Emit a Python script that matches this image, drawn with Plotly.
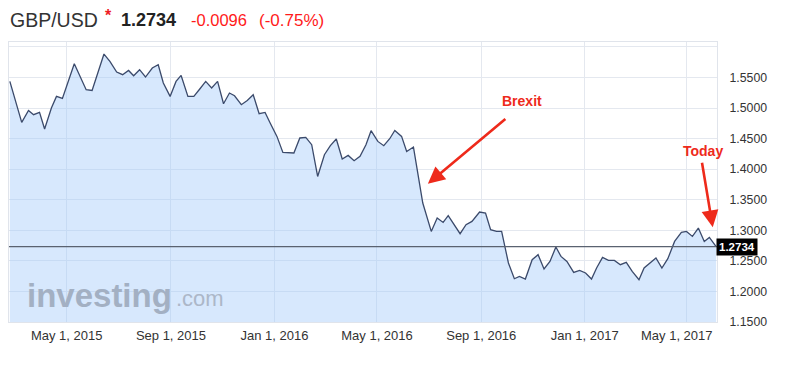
import plotly.graph_objects as go

# ---- data ----
dates = ["2015-02-23","2015-03-09","2015-03-17","2015-03-23","2015-03-30","2015-04-05","2015-04-13","2015-04-19","2015-04-26","2015-05-10",
         "2015-05-24","2015-05-31","2015-06-14","2015-06-21","2015-06-29","2015-07-06","2015-07-13","2015-07-19","2015-07-26","2015-08-02",
         "2015-08-10","2015-08-17","2015-08-23","2015-08-31","2015-09-07","2015-09-13","2015-09-21","2015-09-28","2015-10-05","2015-10-12",
         "2015-10-19","2015-10-26","2015-11-02","2015-11-09","2015-11-15","2015-11-23","2015-11-30","2015-12-07","2015-12-14","2015-12-21",
         "2015-12-27","2016-01-04","2016-01-11","2016-01-17","2016-01-24","2016-01-31","2016-02-07","2016-02-14","2016-02-21","2016-02-29",
         "2016-03-07","2016-03-14","2016-03-21","2016-03-28","2016-04-04","2016-04-11","2016-04-18","2016-04-24","2016-05-02","2016-05-09",
         "2016-05-16","2016-05-22","2016-05-30","2016-06-05","2016-06-13","2016-06-24","2016-07-04","2016-07-11","2016-07-18","2016-07-24",
         "2016-08-01","2016-08-07","2016-08-14","2016-08-21","2016-08-30","2016-09-06","2016-09-12","2016-09-19","2016-09-25","2016-10-03",
         "2016-10-10","2016-10-16","2016-10-23","2016-10-31","2016-11-07","2016-11-14","2016-11-21","2016-11-28","2016-12-04","2016-12-11",
         "2016-12-19","2016-12-26","2017-01-02","2017-01-09","2017-01-15","2017-01-22","2017-01-29","2017-02-05","2017-02-12","2017-02-19",
         "2017-02-26","2017-03-06","2017-03-12","2017-03-19","2017-03-26","2017-04-02","2017-04-09","2017-04-17","2017-04-25","2017-05-01",
         "2017-05-08","2017-05-15","2017-05-22","2017-05-28","2017-06-05"]

gbpusd = [1.5435, 1.4765, 1.4961, 1.4891, 1.4928, 1.4657, 1.5000, 1.5190, 1.5157, 1.5725,
          1.5299, 1.5288, 1.5883, 1.5762, 1.5589, 1.5545, 1.5615, 1.5528, 1.5627, 1.5507,
          1.5654, 1.5708, 1.5409, 1.5190, 1.5435, 1.5533, 1.5190, 1.5190, 1.5311, 1.5435,
          1.5327, 1.5435, 1.5070, 1.5245, 1.5201, 1.5054, 1.5124, 1.5218, 1.4907, 1.4928,
          1.4755, 1.4536, 1.4274, 1.4274, 1.4264, 1.4510, 1.4519, 1.4400, 1.3881, 1.4236,
          1.4384, 1.4493, 1.4166, 1.4225, 1.4138, 1.4209, 1.4400, 1.4629, 1.4454, 1.4384,
          1.4498, 1.4634, 1.4536, 1.4290, 1.4362, 1.3446, 1.2982, 1.3201, 1.3129, 1.3239,
          1.3064, 1.2944, 1.3091, 1.3145, 1.3299, 1.3283, 1.3010, 1.2982, 1.2982, 1.2465,
          1.2208, 1.2246, 1.2203, 1.2519, 1.2601, 1.2367, 1.2491, 1.2727, 1.2573, 1.2491,
          1.2311, 1.2344, 1.2301, 1.2203, 1.2383, 1.2557, 1.2508, 1.2508, 1.2437, 1.2475,
          1.2328, 1.2192, 1.2383, 1.2465, 1.2547, 1.2383, 1.2535, 1.2818, 1.2965, 1.2982,
          1.2900, 1.3037, 1.2818, 1.2884, 1.2734]

last_price = 1.2734
change = "-0.0096"
change_pct = "(-0.75%)"

x_tick_vals = ["2015-05-01", "2015-09-01", "2016-01-01", "2016-05-01", "2016-09-01", "2017-01-01", "2017-05-01"]
x_tick_text = ["May 1, 2015", "Sep 1, 2015", "Jan 1, 2016", "May 1, 2016", "Sep 1, 2016", "Jan 1, 2017", "May 1, 2017"]
y_tick_vals = [1.15, 1.20, 1.25, 1.30, 1.35, 1.40, 1.45, 1.50, 1.55, 1.60]
y_tick_text = ["1.1500", "1.2000", "1.2500", "1.3000", "1.3500", "1.4000", "1.4500", "1.5000", "1.5500", ""]

brexit_point = ("2016-06-30", 1.3762)
today_point = ("2017-06-01", 1.3050)

FONT = "Liberation Sans, Arial, Helvetica, sans-serif"
RED = "#ee2a1b"

fig = go.Figure()
fig.add_trace(go.Scatter(
    x=dates, y=gbpusd, mode="lines",
    line=dict(color="#3b4a6b", width=1.3),
    fill="tozeroy", fillcolor="rgba(160,200,250,0.42)",
    hoverinfo="skip", showlegend=False,
))

fig.add_shape(type="line", xref="paper", x0=0, x1=1, yref="y", y0=last_price, y1=last_price,
              line=dict(color="#5a6270", width=1.3))

# last x tick label is drawn slightly left of its gridline, as in the reference
tick_text_axis = x_tick_text[:-1] + [""]

ann = []
ann.append(dict(xref="x", x=x_tick_vals[-1], xshift=-9, yref="paper", y=0, yshift=-13, yanchor="middle",
                text=x_tick_text[-1], showarrow=False, font=dict(family=FONT, size=13, color="#333333")))
# current value box
ann.append(dict(xref="paper", x=1, xanchor="left", xshift=-1, yref="y", y=last_price, yanchor="middle",
                text="<b>%.4f</b>" % last_price, showarrow=False, bgcolor="#000000", borderpad=2,
                font=dict(family=FONT, size=11.5, color="#ffffff")))
# header
ann.append(dict(xref="paper", x=0, xshift=-1, yref="paper", y=1, yshift=22, xanchor="left", yanchor="middle",
                text="GBP/USD", showarrow=False, font=dict(family=FONT, size=19.5, color="#333333")))
ann.append(dict(xref="paper", x=0, xshift=94, yref="paper", y=1, yshift=27, xanchor="left", yanchor="middle",
                text="<b>*</b>", showarrow=False, font=dict(family=FONT, size=16, color="#ee1c25")))
ann.append(dict(xref="paper", x=0, xshift=110, yref="paper", y=1, yshift=22, xanchor="left", yanchor="middle",
                text="<b>%.4f</b>" % last_price, showarrow=False, font=dict(family=FONT, size=18, color="#222222")))
ann.append(dict(xref="paper", x=0, xshift=180, yref="paper", y=1, yshift=22, xanchor="left", yanchor="middle",
                text=change, showarrow=False, font=dict(family=FONT, size=16.5, color="#ff1a1a")))
ann.append(dict(xref="paper", x=0, xshift=248, yref="paper", y=1, yshift=22, xanchor="left", yanchor="middle",
                text=change_pct, showarrow=False, font=dict(family=FONT, size=17, color="#ff1a1a")))
# watermark
ann.append(dict(xref="paper", x=0, xshift=16, yref="paper", y=0, yshift=27, xanchor="left", yanchor="middle",
                text="<b>investing</b>", showarrow=False, font=dict(family=FONT, size=33, color="#a3b0c3")))
ann.append(dict(xref="paper", x=0, xshift=165, yref="paper", y=0, yshift=24, xanchor="left", yanchor="middle",
                text=".com", showarrow=False, font=dict(family=FONT, size=22, color="#acb7c8")))
# Brexit annotation
ann.append(dict(x=brexit_point[0], y=brexit_point[1], ax=79, ay=-66, text="", showarrow=True,
                arrowhead=2, arrowsize=1.3, arrowwidth=2.6, arrowcolor=RED))
ann.append(dict(x=brexit_point[0], y=brexit_point[1], xshift=94, yshift=83, text="<b>Brexit</b>",
                showarrow=False, font=dict(family=FONT, size=14, color=RED)))
# Today annotation
ann.append(dict(x=today_point[0], y=today_point[1], ax=-11, ay=-66, text="", showarrow=True,
                arrowhead=2, arrowsize=1.3, arrowwidth=2.6, arrowcolor=RED))
ann.append(dict(x=today_point[0], y=today_point[1], xshift=-10, yshift=76, text="<b>Today</b>",
                showarrow=False, font=dict(family=FONT, size=14, color=RED)))

# the page body adds an 8px offset; margins compensate so the plot sits where the reference has it
fig.update_layout(
    width=785, height=377,
    margin=dict(l=1, r=76, t=34, b=63),
    paper_bgcolor="#ffffff", plot_bgcolor="#ffffff",
    font=dict(family=FONT, color="#333333"),
    annotations=ann,
    showlegend=False,
)
fig.update_xaxes(
    range=["2015-02-22", "2017-06-06"], tickmode="array", tickvals=x_tick_vals, ticktext=tick_text_axis,
    showgrid=True, gridcolor="#e4e8ef", gridwidth=1, zeroline=False,
    showline=True, linecolor="#e0e4eb", linewidth=1, mirror=True,
    tickfont=dict(family=FONT, size=13, color="#333333"), ticks="", ticklabelstandoff=1,
)
fig.update_yaxes(
    range=[1.15, 1.608], side="right", tickmode="array", tickvals=y_tick_vals, ticktext=y_tick_text,
    showgrid=True, gridcolor="#e4e8ef", gridwidth=1, zeroline=False,
    showline=True, linecolor="#e0e4eb", linewidth=1, mirror=True,
    tickfont=dict(family=FONT, size=12.3, color="#333333"), ticks="", ticklabelstandoff=9,
)

fig.write_html("out.html")
